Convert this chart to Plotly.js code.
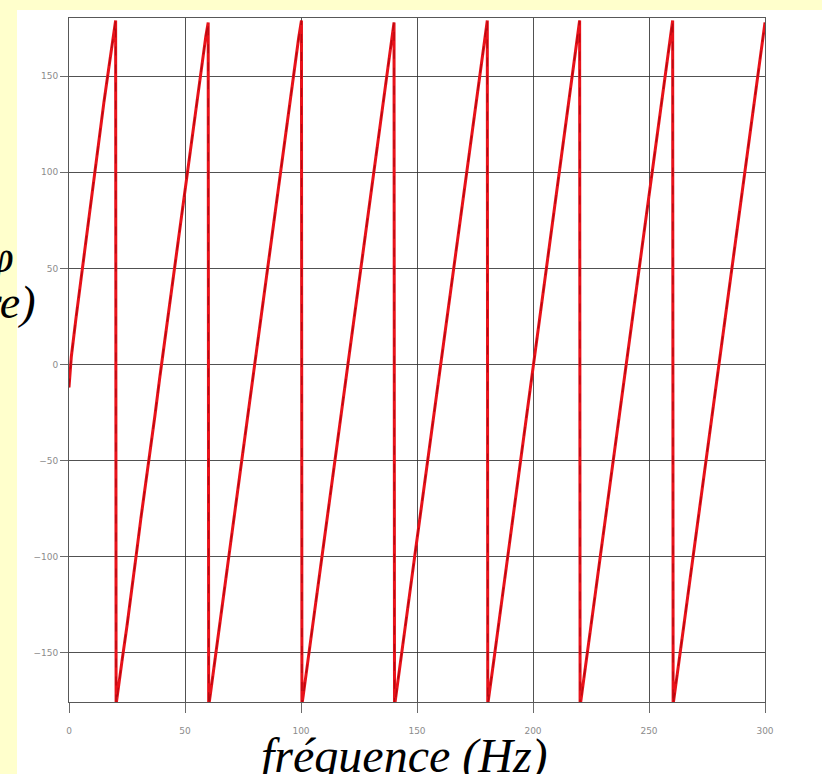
<!DOCTYPE html>
<html>
<head>
<meta charset="utf-8">
<script src="https://cdn.plot.ly/plotly-3.0.1.min.js"></script>
<style>html,body{margin:0;padding:0;background:#FFFFCC;}#chart{width:822px;height:774px;}</style>
</head>
<body>
<div id="chart"></div>
<script>
// Frequency (Hz) and wrapped phase (degrees)
const freq = [
  0, 1, 3, 5, 7, 9, 11, 13, 15, 17, 19, 20.1,
  20.3, 21, 23, 25, 27, 29, 31, 33, 35, 37, 39, 41, 43, 45, 47, 49, 51, 53, 55, 57, 59, 60.0,
  60.2, 61, 63, 65, 67, 69, 71, 73, 75, 77, 79, 81, 83, 85, 87, 89, 91, 93, 95, 97, 99, 100.2,
  100.4, 101, 103, 105, 107, 109, 111, 113, 115, 117, 119, 121, 123, 125, 127, 129, 131, 133, 135, 137, 139, 140.1,
  140.3, 141, 143, 145, 147, 149, 151, 153, 155, 157, 159, 161, 163, 165, 167, 169, 171, 173, 175, 177, 179, 180.3,
  180.5, 181, 183, 185, 187, 189, 191, 193, 195, 197, 199, 201, 203, 205, 207, 209, 211, 213, 215, 217, 219, 220.1,
  220.3, 221, 223, 225, 227, 229, 231, 233, 235, 237, 239, 241, 243, 245, 247, 249, 251, 253, 255, 257, 259, 260.2,
  260.4, 261, 263, 265, 267, 269, 271, 273, 275, 277, 279, 281, 283, 285, 287, 289, 291, 293, 295, 297, 299, 300
];
const phase = [
  -12, 4, 24, 43, 61, 81, 99, 118, 136, 153, 171, 179,
  -177, -170, -153, -136, -116, -99, -80, -63, -44, -27, -8, 10, 28, 46, 64, 82, 100, 118, 135, 154, 171, 178,
  -178, -171, -152, -135, -117, -99, -81, -62, -46, -27, -9, 9, 27, 45, 63, 81, 99, 116, 135, 152, 170, 179,
  -177, -172, -154, -136, -117, -100, -81, -64, -45, -27, -9, 8, 27, 45, 62, 81, 99, 117, 134, 153, 171, 178,
  -178, -172, -154, -136, -118, -100, -82, -64, -46, -28, -10, 8, 26, 44, 62, 80, 98, 116, 134, 152, 170, 179,
  -177, -173, -155, -137, -119, -101, -83, -65, -47, -29, -11, 7, 26, 44, 62, 80, 98, 116, 134, 152, 170, 179,
  -178, -172, -154, -136, -118, -100, -82, -64, -46, -28, -10, 8, 26, 44, 62, 80, 98, 116, 134, 152, 170, 179,
  -177, -172, -154, -136, -118, -100, -82, -64, -46, -28, -10, 8, 26, 44, 62, 80, 98, 116, 134, 152, 169, 178
];
const xTicks = [0, 50, 100, 150, 200, 250, 300];
const yTicks = [-150, -100, -50, 0, 50, 100, 150];
const xLabel = 'fréquence (Hz)';
const yLabel1 = 'déphasage φ';
const yLabel2 = '(en degre)';

const traces = [
  {x: freq, y: phase, type: 'scatter', mode: 'lines',
   line: {color: '#e8121a', width: 3}, hoverinfo: 'skip', showlegend: false},
  {x: freq, y: phase, type: 'scatter', mode: 'lines',
   line: {color: 'rgba(140,0,10,0.55)', width: 1.2, dash: 'dash'}, hoverinfo: 'skip', showlegend: false}
];

const L = 69, R = 765, T = 18, B = 702, W = 822, H = 774;
const pw = R - L, ph = B - T;
const px = v => (v - L) / pw;
const py = v => (B - v) / ph;

const serif = '"Times New Roman", "Liberation Serif", "DejaVu Serif", serif';

const axisCommon = {
  showgrid: true, gridcolor: 'rgba(50,50,50,0.85)', gridwidth: 1,
  zeroline: false, showline: true, mirror: true, linecolor: 'rgba(70,70,70,0.9)', linewidth: 1,
  ticks: 'outside', tickcolor: 'rgba(90,90,90,0.9)', tickwidth: 1,
  tickfont: {family: 'DejaVu Sans', size: 9, color: '#8c8c8c'}
};

const layout = {
  width: W, height: H,
  paper_bgcolor: '#FFFFCC', plot_bgcolor: '#ffffff',
  margin: {l: L, r: W - R, t: T, b: H - B, pad: 0},
  xaxis: Object.assign({}, axisCommon, {range: [0, 300], tickvals: xTicks, ticktext: xTicks.map(String), ticklen: 10, ticklabelstandoff: 10}),
  yaxis: Object.assign({}, axisCommon, {range: [-175.7, 180.3], tickvals: yTicks, ticklen: 8}),
  shapes: [
    {type: 'rect', xref: 'paper', yref: 'paper', layer: 'below',
     x0: px(17), x1: px(830), y0: py(10), y1: py(790),
     fillcolor: '#ffffff', line: {width: 0}}
  ],
  annotations: [
    {text: '<i>' + xLabel + '</i>', xref: 'paper', yref: 'paper', x: px(404), y: py(756), xanchor: 'center', yanchor: 'middle',
     showarrow: false, font: {family: serif, size: 48, color: '#000'}},
    {text: '<i>' + yLabel1 + '</i>', xref: 'paper', yref: 'paper', x: px(16), y: py(256), xanchor: 'right', yanchor: 'middle',
     showarrow: false, font: {family: serif, size: 46, color: '#000'}},
    {text: '<i>' + yLabel2 + '</i>', xref: 'paper', yref: 'paper', x: px(38), y: py(302), xanchor: 'right', yanchor: 'middle',
     showarrow: false, font: {family: serif, size: 46, color: '#000'}}
  ]
};

Plotly.newPlot('chart', traces, layout, {staticPlot: true, displayModeBar: false});
</script>
</body>
</html>
